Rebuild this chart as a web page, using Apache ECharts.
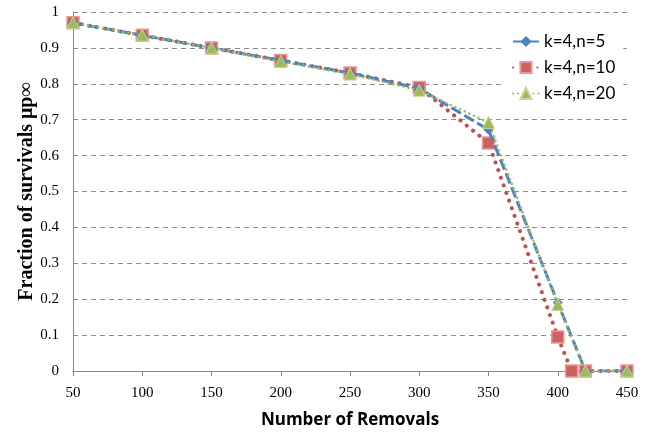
<!DOCTYPE html>
<html>
<head>
<meta charset="utf-8">
<script src="https://cdn.jsdelivr.net/npm/echarts@6/dist/echarts.min.js"></script>
<style>html,body{margin:0;padding:0;background:#fff}#c{width:657px;height:432px}</style>
</head>
<body>
<div id="c"></div>
<script>
// Removals at which each configuration was measured
const removalsN5 = [50, 100, 150, 200, 250, 300, 350, 400, 420, 450];
const removalsN10 = [50, 100, 150, 200, 250, 300, 350, 400, 410, 420, 450];
const removalsN20 = [50, 100, 150, 200, 250, 300, 350, 400, 420, 450];
// Fraction of survivals for each configuration
const survivalN5 = [0.97, 0.935, 0.9, 0.865, 0.83, 0.787, 0.672, 0.19, 0, 0];
const survivalN10 = [0.97, 0.935, 0.9, 0.865, 0.83, 0.79, 0.635, 0.095, 0, 0, 0];
const survivalN20 = [0.97, 0.935, 0.9, 0.862, 0.827, 0.782, 0.692, 0.185, 0, 0];
const seriesNames = ['k=4,n=5', 'k=4,n=10', 'k=4,n=20'];
const xTicks = { min: 50, max: 450, step: 50 };
const yTicks = { min: 0, max: 1, step: 0.1 };

const pairs = (xs, ys) => xs.map((x, i) => [x, ys[i]]);

const chart = echarts.init(document.getElementById('c'), null, { renderer: 'canvas' });
const serif = '"Liberation Serif", "DejaVu Serif", serif';
chart.setOption({
  animation: false,
  backgroundColor: '#ffffff',
  grid: { left: 73, right: 30, top: 12, bottom: 61, outerBoundsMode: 'none', containLabel: false },
  legend: {
    orient: 'vertical',
    left: 504,
    top: 31,
    itemGap: 9,
    itemWidth: 26,
    itemHeight: 14,
    backgroundColor: '#ffffff',
    padding: [2, 8, 2, 8],
    textStyle: { fontFamily: 'Lato, "Open Sans", sans-serif', fontSize: 17, color: '#000' },
    data: seriesNames
  },
  xAxis: {
    type: 'value',
    min: xTicks.min, max: xTicks.max, interval: xTicks.step,
    name: 'Number of Removals',
    nameLocation: 'middle',
    nameGap: 41,
    nameMoveOverlap: false,
    nameTextStyle: { fontFamily: '"Open Sans", Lato, sans-serif', fontWeight: 'bold', fontSize: 17, color: '#000' },
    axisLine: { lineStyle: { color: '#868686', width: 1 } },
    axisTick: { show: true, length: 5, lineStyle: { color: '#868686' } },
    axisLabel: { fontFamily: serif, fontSize: 15, color: '#000', margin: 15 },
    splitLine: { show: false }
  },
  yAxis: {
    type: 'value',
    min: yTicks.min, max: yTicks.max, interval: yTicks.step,
    name: 'Fraction of survivals μp∞',
    nameLocation: 'middle',
    nameGap: 36,
    nameMoveOverlap: false,
    nameTextStyle: { fontFamily: serif, fontWeight: 'bold', fontSize: 20, color: '#000' },
    axisLine: { show: true, lineStyle: { color: '#868686', width: 1 } },
    axisTick: { show: false },
    axisLabel: { fontFamily: serif, fontSize: 15, color: '#000', margin: 14,
      formatter: v => String(Math.round(v * 10) / 10) },
    splitLine: { show: true, lineStyle: { color: '#8c8c8c', type: [5, 4], width: 1 } }
  },
  series: [
    {
      name: seriesNames[0], type: 'line', z: 3,
      data: pairs(removalsN5, survivalN5),
      symbol: 'diamond', symbolSize: 10,
      itemStyle: { color: '#4F81BD' },
      lineStyle: { color: '#4F81BD', width: 3, type: [11, 4] }
    },
    {
      name: seriesNames[1], type: 'line', z: 2,
      data: pairs(removalsN10, survivalN10),
      symbol: 'rect', symbolSize: 12,
      itemStyle: { color: '#D06060', borderColor: '#E39A9A', borderWidth: 1.5 },
      lineStyle: { color: '#C0504D', width: 4, type: [0.1, 8], cap: 'round' }
    },
    {
      name: seriesNames[2], type: 'line', z: 4,
      data: pairs(removalsN20, survivalN20),
      symbol: 'triangle', symbolSize: 12,
      itemStyle: { color: '#9BBB59', borderColor: '#C3D69B', borderWidth: 1 },
      lineStyle: { color: '#9BBB59', width: 2.5, type: [0.1, 5], cap: 'round' }
    }
  ]
});
</script>
</body>
</html>
